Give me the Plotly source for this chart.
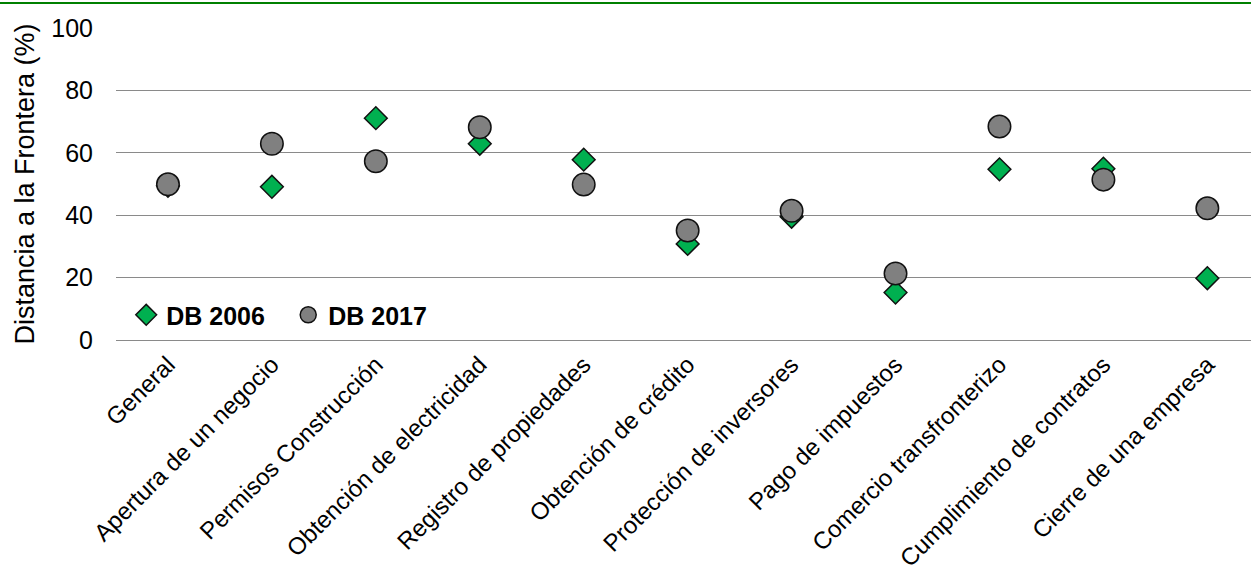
import plotly.graph_objects as go

categories = ["General", "Apertura de un negocio", "Permisos Construcción",
              "Obtención de electricidad", "Registro de propiedades",
              "Obtención de crédito", "Protección de inversores",
              "Pago de impuestos", "Comercio transfronterizo",
              "Cumplimiento de contratos", "Cierre de una empresa"]
db2006 = [49.4, 49.1, 71.1, 62.9, 57.8, 30.8, 39.5, 15.2, 54.7, 54.9, 19.8]
db2017 = [49.9, 62.9, 57.3, 68.2, 49.8, 35.1, 41.4, 21.3, 68.4, 51.4, 42.2]
series_names = ["DB 2006", "DB 2017"]
y_ticks = [0, 20, 40, 60, 80, 100]

FONT = "Liberation Sans, Arial, sans-serif"
x_idx = list(range(len(categories)))

fig = go.Figure()
fig.add_trace(go.Scatter(
    x=x_idx, y=db2006, mode="markers", name=series_names[0],
    marker=dict(symbol="diamond", size=17.5, color="#00B050",
                line=dict(color="#111111", width=1.5)),
    cliponaxis=False))
fig.add_trace(go.Scatter(
    x=x_idx, y=db2017, mode="markers", name=series_names[1],
    marker=dict(symbol="circle", size=22.5, color="#808080",
                line=dict(color="#111111", width=1.5)),
    cliponaxis=False))

fig.update_layout(
    width=1251, height=572,
    margin=dict(l=116, r=0, t=28, b=230),
    paper_bgcolor="white", plot_bgcolor="white",
    font=dict(family=FONT, color="black"),
    showlegend=True,
    legend=dict(orientation="h", x=0.009, y=0.08, xanchor="left", yanchor="middle",
                font=dict(family=FONT, size=25, color="black", weight="bold"),
                bgcolor="rgba(0,0,0,0)", entrywidth=117, entrywidthmode="pixels"),
    xaxis=dict(range=[-0.5, 10.42], tickmode="array", tickvals=x_idx,
               ticktext=categories, tickangle=-45, showgrid=False,
               showline=True, linecolor="#8a8a8a", linewidth=1.3,
               tickfont=dict(family=FONT, size=24, color="black"),
               ticks="", zeroline=False),
    yaxis=dict(range=[0, 100], tickmode="array", tickvals=y_ticks,
               showgrid=True, gridcolor="#8a8a8a", gridwidth=1.3,
               zeroline=False, ticks="", ticklabelstandoff=22,
               tickfont=dict(family=FONT, size=25, color="black"),
               title=dict(text="Distancia a la Frontera (%)",
                          font=dict(family=FONT, size=27, color="black"),
                          standoff=8)),
    shapes=[dict(type="line", xref="paper", yref="paper",
                 x0=-0.11, x1=1.01, y0=1.0805, y1=1.0805,
                 line=dict(color="#008000", width=2))],
)

fig.write_html("out.html",
               config={"displayModeBar": False},
               post_script="document.body.style.margin='0px';"
                           "document.body.style.overflow='hidden';")
